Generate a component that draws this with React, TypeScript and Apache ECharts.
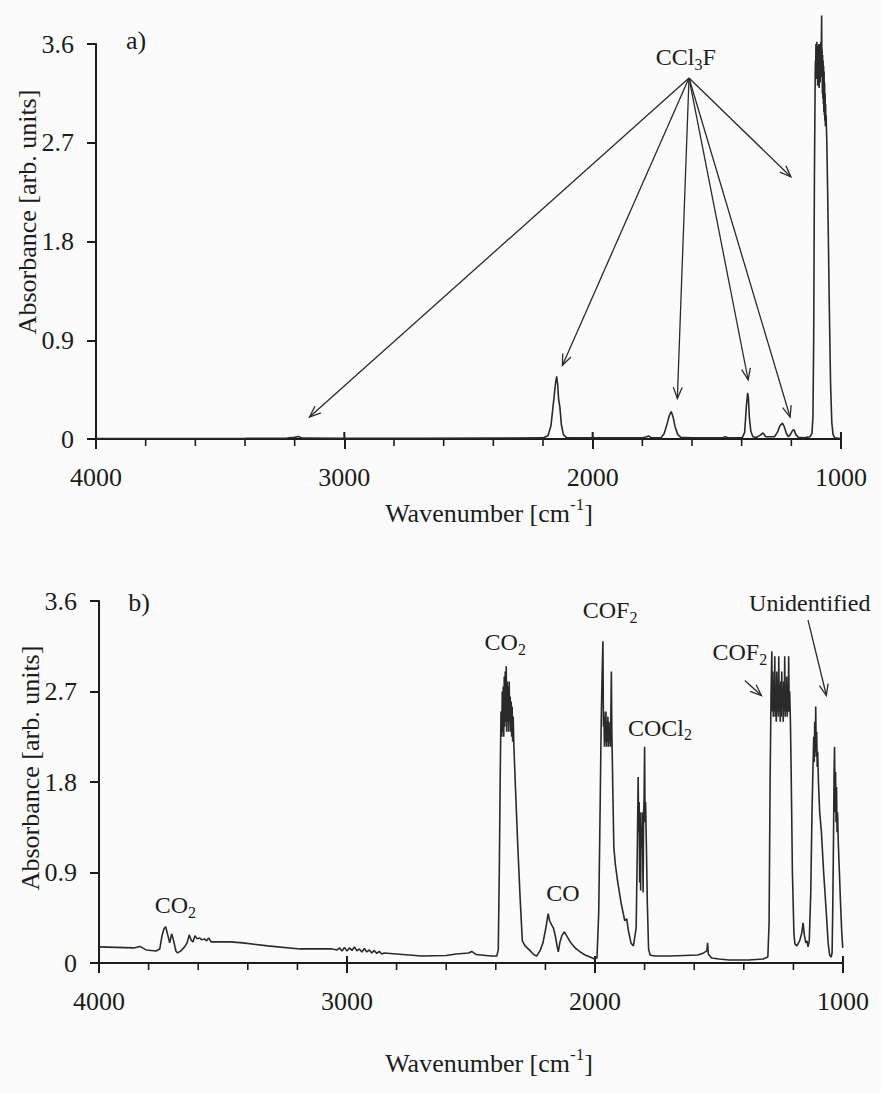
import React, { useEffect, useRef } from 'react';
import * as echarts from 'echarts';

const FONT = 'Liberation Serif';
const INK = '#1c1c1c';
const LINE = '#2a2a2a';

// ---- axis ticks ----
const xTicks = [4000, 3000, 2000, 1000];
const xMinorTicks = [
  3800, 3600, 3400, 3200, 2800, 2600, 2400, 2200, 1800, 1600, 1400, 1200,
];
const yTicks = [0, 0.9, 1.8, 2.7, 3.6];

// ---- panel a) spectrum: [wavenumber, absorbance] ----
const spectrumA: [number, number][] = [
  [4000, 0.005], [3700, 0.005], [3400, 0.006], [3230, 0.008], [3200, 0.015], [3185, 0.022], [3170, 0.008],
  [3000, 0.006], [2700, 0.006], [2400, 0.008], [2200, 0.01], [2180, 0.03], [2168, 0.12], [2158, 0.33],
  [2150, 0.5], [2145, 0.57], [2141, 0.5], [2137, 0.36], [2132, 0.29], [2126, 0.13], [2118, 0.04], [2105, 0.012],
  [1950, 0.01], [1800, 0.01], [1785, 0.018], [1775, 0.028], [1765, 0.012], [1725, 0.01], [1712, 0.05],
  [1700, 0.14], [1692, 0.21], [1684, 0.25], [1676, 0.2], [1668, 0.11], [1657, 0.04], [1645, 0.015],
  [1600, 0.01], [1480, 0.01], [1466, 0.02], [1452, 0.01], [1398, 0.01], [1388, 0.06], [1381, 0.3],
  [1376, 0.42], [1373, 0.38], [1369, 0.2], [1363, 0.07], [1355, 0.02], [1340, 0.015], [1325, 0.035],
  [1314, 0.055], [1303, 0.02], [1268, 0.02], [1256, 0.06], [1246, 0.12], [1236, 0.145], [1228, 0.11],
  [1220, 0.05], [1212, 0.02], [1204, 0.04], [1196, 0.075], [1189, 0.085], [1182, 0.04], [1172, 0.015],
  [1150, 0.01], [1125, 0.02], [1117, 0.05], [1113, 0.2], [1110, 0.9], [1107, 2.4], [1104, 3.3],
  [1103, 3.45], [1102, 3.3], [1101, 3.6], [1100, 3.35], [1099, 3.55], [1098, 3.28], [1097, 3.62],
  [1096, 3.3], [1095, 3.5], [1094, 3.22], [1093, 3.58], [1092, 3.3], [1091, 3.55], [1090, 3.25],
  [1089, 3.6], [1088, 3.2], [1087, 3.5], [1086, 3.3], [1085, 3.6], [1084, 3.25], [1083, 3.5],
  [1082, 3.3], [1081, 3.62], [1080, 3.35], [1079, 3.6], [1078, 3.86], [1077, 3.45], [1076, 3.55],
  [1075, 3.15], [1074, 3.5], [1073, 3.1], [1072, 3.45], [1071, 3.05], [1070, 3.4], [1069, 2.98],
  [1068, 3.35], [1067, 2.95], [1066, 3.25], [1065, 2.9], [1064, 3.15], [1063, 2.85], [1062, 3.05],
  [1061, 2.85], [1060, 2.95], [1057, 2.7], [1052, 2.0], [1047, 1.2], [1042, 0.5], [1037, 0.15],
  [1032, 0.04], [1025, 0.01], [1003, 0.005],
];

// ---- panel b) spectrum: [wavenumber, absorbance] ----
const spectrumB: [number, number][] = [
  [4000, 0.16], [3930, 0.155], [3860, 0.15], [3835, 0.165], [3810, 0.13], [3770, 0.12], [3755, 0.14],
  [3746, 0.27], [3738, 0.34], [3731, 0.36], [3723, 0.28], [3715, 0.2], [3707, 0.29], [3699, 0.22],
  [3690, 0.12], [3683, 0.1], [3670, 0.12], [3655, 0.16], [3645, 0.2], [3636, 0.28], [3629, 0.23],
  [3621, 0.21], [3613, 0.27], [3604, 0.24], [3595, 0.25], [3585, 0.23], [3575, 0.24], [3566, 0.22],
  [3558, 0.25], [3548, 0.21], [3530, 0.21], [3470, 0.21], [3420, 0.2], [3320, 0.17], [3190, 0.14],
  [3060, 0.14], [3040, 0.13], [3030, 0.15], [3020, 0.12], [3010, 0.155], [3000, 0.12], [2990, 0.15],
  [2980, 0.125], [2970, 0.16], [2960, 0.12], [2950, 0.14], [2940, 0.11], [2930, 0.145], [2920, 0.11],
  [2910, 0.13], [2900, 0.1], [2890, 0.125], [2880, 0.095], [2870, 0.115], [2860, 0.09], [2850, 0.1],
  [2800, 0.09], [2700, 0.07], [2600, 0.075], [2560, 0.09], [2510, 0.1], [2497, 0.115], [2480, 0.085],
  [2420, 0.07], [2396, 0.07], [2390, 0.13], [2386, 0.9], [2382, 1.9], [2379, 2.5], [2376, 2.25],
  [2374, 2.7], [2372, 2.3], [2370, 2.75], [2368, 2.25], [2366, 2.85], [2364, 2.35], [2362, 2.9],
  [2360, 2.4], [2358, 2.95], [2356, 2.3], [2354, 2.8], [2352, 2.4], [2350, 2.75], [2348, 2.3],
  [2346, 2.8], [2344, 2.4], [2342, 2.65], [2340, 2.3], [2338, 2.6], [2336, 2.25], [2334, 2.55],
  [2332, 2.2], [2330, 2.45], [2327, 2.15], [2320, 1.7], [2312, 1.2], [2302, 0.65], [2293, 0.22],
  [2282, 0.17], [2265, 0.13], [2245, 0.08], [2235, 0.07], [2222, 0.12], [2210, 0.2], [2198, 0.35],
  [2189, 0.49], [2183, 0.42], [2175, 0.38], [2168, 0.35], [2160, 0.27], [2153, 0.17], [2148, 0.11],
  [2142, 0.2], [2134, 0.27], [2124, 0.31], [2114, 0.27], [2100, 0.21], [2080, 0.15], [2060, 0.11],
  [2040, 0.08], [2020, 0.06], [2002, 0.04], [1992, 0.05],
  [1985, 0.5], [1979, 1.6], [1975, 2.4], [1971, 2.9], [1968, 3.2], [1966, 2.35], [1964, 2.5],
  [1962, 2.15], [1960, 2.45], [1958, 2.2], [1956, 2.5], [1954, 2.15], [1952, 2.4], [1950, 2.2],
  [1948, 2.45], [1946, 2.15], [1944, 2.4], [1942, 2.2], [1940, 2.35], [1938, 2.15], [1936, 2.5],
  [1934, 2.9], [1932, 2.3], [1928, 1.7], [1924, 1.15], [1918, 0.98], [1908, 0.8], [1895, 0.6],
  [1880, 0.42], [1872, 0.44], [1866, 0.33], [1855, 0.2], [1845, 0.17],
  [1834, 0.35], [1829, 1.2], [1826, 1.85], [1824, 1.3], [1822, 1.6], [1820, 0.8], [1818, 1.5],
  [1816, 0.72], [1814, 1.35], [1812, 1.15], [1810, 1.5], [1808, 1.2], [1806, 0.7], [1804, 1.45],
  [1802, 1.65], [1800, 2.15], [1798, 1.4], [1796, 1.6], [1793, 1.2], [1789, 0.6], [1784, 0.14],
  [1778, 0.08], [1760, 0.07], [1700, 0.07], [1640, 0.075], [1585, 0.08], [1562, 0.1], [1549, 0.12],
  [1546, 0.2], [1543, 0.09], [1530, 0.05], [1500, 0.04], [1460, 0.03], [1380, 0.03], [1322, 0.04],
  [1303, 0.06], [1298, 0.4], [1294, 1.8], [1290, 2.7], [1287, 3.1], [1285, 2.5], [1283, 2.9],
  [1281, 2.45], [1279, 2.8], [1277, 2.5], [1275, 3.05], [1273, 2.45], [1271, 2.75], [1269, 2.4],
  [1267, 2.9], [1265, 2.5], [1263, 2.7], [1261, 2.45], [1259, 3.05], [1257, 2.5], [1255, 2.75],
  [1253, 2.4], [1251, 2.8], [1249, 2.45], [1247, 2.9], [1245, 2.55], [1243, 2.7], [1241, 2.4],
  [1239, 2.8], [1237, 2.5], [1235, 3.05], [1233, 2.45], [1231, 2.75], [1229, 2.5], [1227, 2.85],
  [1225, 2.45], [1223, 2.7], [1221, 2.5], [1219, 3.05], [1217, 2.5], [1215, 2.7], [1212, 2.4],
  [1209, 1.9], [1204, 0.9], [1198, 0.3], [1194, 0.19], [1186, 0.17], [1175, 0.22], [1166, 0.3],
  [1161, 0.4], [1156, 0.28], [1150, 0.2], [1145, 0.22], [1141, 0.16], [1136, 0.22], [1130, 0.7],
  [1125, 1.5], [1121, 1.95], [1118, 2.25], [1116, 2.0], [1114, 2.4], [1112, 2.1], [1110, 2.55],
  [1108, 2.05], [1106, 2.3], [1104, 1.95], [1102, 2.1], [1099, 1.8], [1094, 1.5], [1087, 1.3],
  [1078, 0.9], [1067, 0.49], [1060, 0.2], [1054, 0.08], [1048, 0.06], [1044, 0.1], [1041, 0.6],
  [1038, 1.3], [1036, 1.9], [1034, 2.15], [1032, 1.5], [1030, 1.9], [1028, 1.4], [1026, 1.75],
  [1024, 1.3], [1022, 1.5], [1019, 1.2], [1016, 1.0], [1010, 0.6], [1005, 0.3], [1001, 0.15],
];

// ---- annotations (data coordinates) ----
type Part = [string, 'n' | 'sub' | 'sup'];
const labelsA: { parts: Part[]; at: [number, number] }[] = [
  { parts: [['CCl', 'n'], ['3', 'sub'], ['F', 'n']], at: [1625, 3.48] },
];
const cclArrowFrom: [number, number] = [1612, 3.29];
const cclArrowTo: [number, number][] = [
  [3140, 0.2], [2122, 0.67], [1659, 0.37], [1374, 0.54], [1205, 0.2], [1202, 2.39],
];
const labelsB: { parts: Part[]; at: [number, number] }[] = [
  { parts: [['CO', 'n'], ['2', 'sub']], at: [3692, 0.575] },
  { parts: [['CO', 'n'], ['2', 'sub']], at: [2362, 3.19] },
  { parts: [['COF', 'n'], ['2', 'sub']], at: [1939, 3.51] },
  { parts: [['COCl', 'n'], ['2', 'sub']], at: [1738, 2.34] },
  { parts: [['CO', 'n']], at: [2129, 0.7] },
  { parts: [['COF', 'n'], ['2', 'sub']], at: [1416, 3.09] },
  { parts: [['Unidentified', 'n']], at: [1134, 3.58] },
];
const arrowsB: [[number, number], [number, number]][] = [
  [[1396, 2.81], [1329, 2.66]],
  [[1141, 3.41], [1067, 2.66]],
];

const measureCtx = document.createElement('canvas').getContext('2d') as CanvasRenderingContext2D;
function textWidth(t: string, size: number) {
  measureCtx.font = `${size}px "Liberation Serif"`;
  return measureCtx.measureText(t).width;
}

function richText(cx: number, cy: number, parts: Part[], size: number, rotation = 0): any {
  const sub = Math.round(size * 0.66);
  const widths = parts.map(([t, k]) => textWidth(t, k === 'n' ? size : sub));
  const total = widths.reduce((a, b) => a + b, 0);
  let x = -total / 2;
  const children = parts.map(([t, k], i) => {
    const fs = k === 'n' ? size : sub;
    const dy = k === 'sub' ? size * 0.3 : k === 'sup' ? -size * 0.32 : 0;
    const el = {
      type: 'text',
      x,
      y: dy,
      style: {
        text: t,
        fontFamily: FONT,
        fontSize: fs,
        fill: INK,
        textAlign: 'left',
        textVerticalAlign: 'middle',
      },
    };
    x += widths[i];
    return el;
  });
  return { type: 'group', x: cx, y: cy, rotation, children };
}

function arrow(p1: number[], p2: number[]): any[] {
  const dx = p1[0] - p2[0];
  const dy = p1[1] - p2[1];
  const len = Math.hypot(dx, dy);
  const ux = dx / len;
  const uy = dy / len;
  const hl = 12;
  const a = 0.38;
  const rot = (ang: number) => [
    p2[0] + hl * (ux * Math.cos(ang) - uy * Math.sin(ang)),
    p2[1] + hl * (ux * Math.sin(ang) + uy * Math.cos(ang)),
  ];
  const st = { stroke: LINE, lineWidth: 1.3, fill: 'none' };
  return [
    { type: 'line', shape: { x1: p1[0], y1: p1[1], x2: p2[0], y2: p2[1] }, style: st },
    { type: 'polyline', shape: { points: [rot(a), [p2[0], p2[1]], rot(-a)] }, style: st },
  ];
}

function xAxis(g: number) {
  return {
    gridIndex: g,
    type: 'value',
    min: 1000,
    max: 4000,
    interval: 1000,
    inverse: true,
    axisLine: { show: true, onZero: false, lineStyle: { color: INK, width: 2 } },
    axisTick: { show: true, inside: false, length: 10, lineStyle: { color: INK, width: 2 } },
    axisLabel: {
      fontFamily: FONT,
      fontSize: 26,
      color: INK,
      margin: 25,
      formatter: (v: number) => (xTicks.includes(v) ? String(v) : ''),
    },
    splitLine: { show: false },
  };
}
function yAxis(g: number) {
  return {
    gridIndex: g,
    type: 'value',
    min: 0,
    max: 3.6,
    interval: 0.9,
    axisLine: { show: true, lineStyle: { color: INK, width: 2 } },
    axisTick: { show: true, length: 9, lineStyle: { color: INK, width: 2 } },
    axisLabel: {
      fontFamily: FONT,
      fontSize: 26,
      color: INK,
      margin: 22,
      formatter: (v: number) => {
        const t = yTicks.find((y) => Math.abs(y - v) < 1e-6);
        if (t === undefined) return '';
        return t === 0 ? '0' : t.toFixed(1);
      },
    },
    splitLine: { show: false },
  };
}

export default function App() {
  const ref = useRef<HTMLDivElement>(null);
  useEffect(() => {
    if (!ref.current) return;
    const chart = echarts.init(ref.current, undefined, { renderer: 'svg' });
    chart.setOption({
      animation: false,
      backgroundColor: '#fbfbfb',
      textStyle: { fontFamily: FONT },
      grid: [
        { left: 96, top: 44, width: 745, height: 395 },
        { left: 99, top: 601, width: 744, height: 362 },
      ],
      xAxis: [xAxis(0), xAxis(1)],
      yAxis: [yAxis(0), yAxis(1)],
      series: [
        {
          type: 'line', xAxisIndex: 0, yAxisIndex: 0, data: spectrumA, showSymbol: false, symbol: 'none',
          clip: false, lineStyle: { color: LINE, width: 1.6 },
        },
        {
          type: 'line', xAxisIndex: 1, yAxisIndex: 1, data: spectrumB, showSymbol: false, symbol: 'none',
          clip: false, lineStyle: { color: LINE, width: 1.6 },
        },
      ],
    });

    const px = (g: number, p: number[]) =>
      chart.convertToPixel({ xAxisIndex: g, yAxisIndex: g } as any, p) as number[];

    const graphics: any[] = [];
    const tickStyle = { stroke: INK, lineWidth: 2 };
    [0, 1].forEach((g) => {
      xTicks.forEach((v) => {
        const p = px(g, [v, 0]);
        graphics.push({ type: 'line', shape: { x1: p[0], y1: p[1] - 7, x2: p[0], y2: p[1] }, style: tickStyle });
      });
      xMinorTicks.forEach((v) => {
        const p = px(g, [v, 0]);
        graphics.push({
          type: 'line', shape: { x1: p[0], y1: p[1], x2: p[0], y2: p[1] + 7 },
          style: { stroke: INK, lineWidth: 1.6 },
        });
      });
    });

    const pa = px(0, [3839, 3.63]);
    graphics.push(richText(pa[0], pa[1], [['a)', 'n']], 26));
    const pb = px(1, [3838, 3.59]);
    graphics.push(richText(pb[0], pb[1], [['b)', 'n']], 26));

    labelsA.forEach((l) => {
      const p = px(0, l.at);
      graphics.push(richText(p[0], p[1], l.parts, 24));
    });
    const from = px(0, cclArrowFrom);
    cclArrowTo.forEach((t) => graphics.push(...arrow(from, px(0, t))));

    labelsB.forEach((l) => {
      const p = px(1, l.at);
      graphics.push(richText(p[0], p[1], l.parts, 24));
    });
    arrowsB.forEach(([a, b]) => graphics.push(...arrow(px(1, a), px(1, b))));

    const yName: Part[] = [['Absorbance [arb. units]', 'n']];
    graphics.push(richText(27, 212, yName, 26, Math.PI / 2));
    graphics.push(richText(30, 768, yName, 26, Math.PI / 2));
    const xName: Part[] = [['Wavenumber [cm', 'n'], ['-1', 'sup'], [']', 'n']];
    graphics.push(richText(489, 513, xName, 26));
    graphics.push(richText(489, 1063, xName, 26));

    chart.setOption({ graphic: graphics });
    return () => chart.dispose();
  }, []);
  return (
    <div
      ref={ref}
      style={{ position: 'absolute', left: 0, top: 0, width: 881, height: 1093 }}
    />
  );
}
